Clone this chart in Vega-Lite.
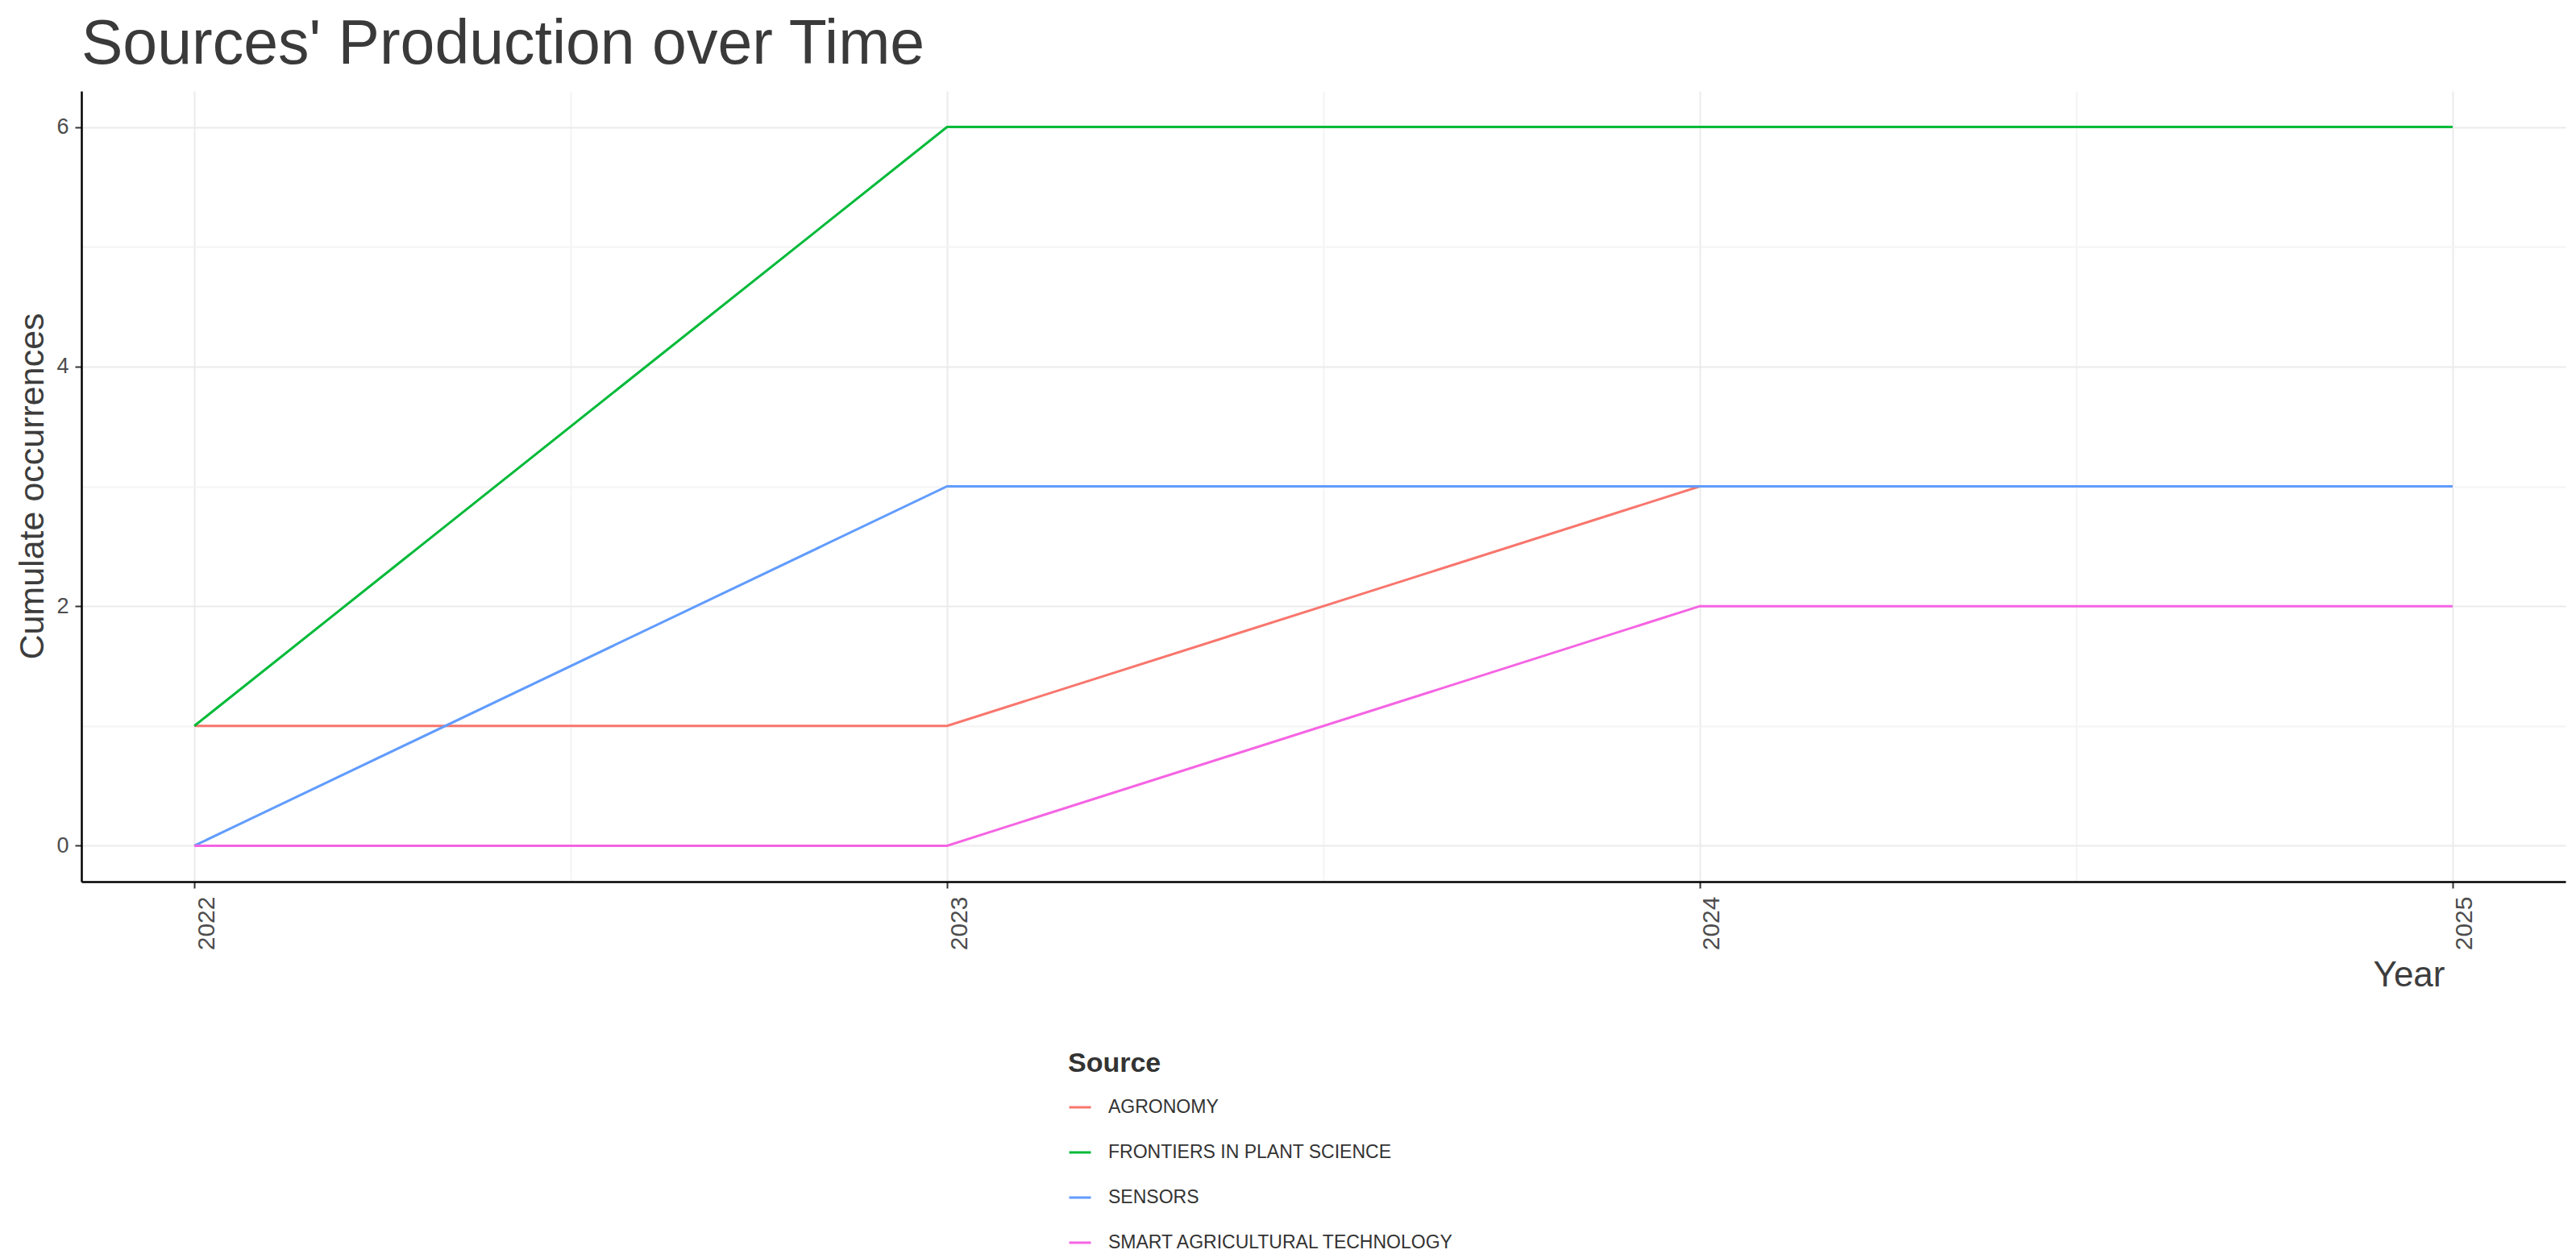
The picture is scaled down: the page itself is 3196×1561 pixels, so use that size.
{
  "$schema": "https://vega.github.io/schema/vega-lite/v6.json",
  "autosize": {"type": "none"},
  "padding": {"left": 101, "top": 113, "right": 13, "bottom": 467},
  "width": 3082,
  "height": 981,
  "background": "white",
  "view": {"stroke": null},
  "title": {
    "text": "Sources' Production over Time",
    "anchor": "start",
    "frame": "group",
    "font": "Liberation Sans",
    "fontSize": 77,
    "fontWeight": "normal",
    "color": "#3a3a3a",
    "baseline": "alphabetic",
    "offset": 32,
    "dy": 75
  },
  "data": {
    "values": [
      {"Source": "AGRONOMY", "Year": 2022, "Count": 1},
      {"Source": "AGRONOMY", "Year": 2023, "Count": 1},
      {"Source": "AGRONOMY", "Year": 2024, "Count": 3},
      {"Source": "AGRONOMY", "Year": 2025, "Count": 3},
      {"Source": "FRONTIERS IN PLANT SCIENCE", "Year": 2022, "Count": 1},
      {"Source": "FRONTIERS IN PLANT SCIENCE", "Year": 2023, "Count": 6},
      {"Source": "FRONTIERS IN PLANT SCIENCE", "Year": 2024, "Count": 6},
      {"Source": "FRONTIERS IN PLANT SCIENCE", "Year": 2025, "Count": 6},
      {"Source": "SENSORS", "Year": 2022, "Count": 0},
      {"Source": "SENSORS", "Year": 2023, "Count": 3},
      {"Source": "SENSORS", "Year": 2024, "Count": 3},
      {"Source": "SENSORS", "Year": 2025, "Count": 3},
      {"Source": "SMART AGRICULTURAL TECHNOLOGY", "Year": 2022, "Count": 0},
      {"Source": "SMART AGRICULTURAL TECHNOLOGY", "Year": 2023, "Count": 0},
      {"Source": "SMART AGRICULTURAL TECHNOLOGY", "Year": 2024, "Count": 2},
      {"Source": "SMART AGRICULTURAL TECHNOLOGY", "Year": 2025, "Count": 2}
    ]
  },
  "mark": {"type": "line", "strokeWidth": 3, "clip": false},
  "encoding": {
    "x": {
      "field": "Year",
      "type": "quantitative",
      "scale": {"domain": [2021.85, 2025.15], "nice": false, "zero": false},
      "axis": {
        "values": [2022, 2022.5, 2023, 2023.5, 2024, 2024.5, 2025],
        "labelExpr": "datum.value % 1 === 0 ? format(datum.value, 'd') : ''",
        "labelAngle": 270,
        "labelAlign": "right",
        "labelBaseline": "top",
        "labelFont": "Liberation Sans",
        "labelFontSize": 30,
        "labelColor": "#4d4d4d",
        "labelPadding": 10,
        "labelOverlap": false,
        "tickSize": 8,
        "tickWidth": 2,
        "tickColor": {"condition": {"test": "datum.value % 1 !== 0", "value": "transparent"}, "value": "#333333"},
        "grid": true,
        "gridColor": {"condition": {"test": "datum.value % 1 !== 0", "value": "#f4f4f4"}, "value": "#ebebeb"},
        "gridWidth": 2,
        "domainColor": "#000000",
        "domainWidth": 2.5,
        "title": "Year",
        "titleFont": "Liberation Sans",
        "titleFontSize": 44,
        "titleFontWeight": "normal",
        "titleColor": "#3d3d3d",
        "titleAlign": "right",
        "titleBaseline": "alphabetic",
        "titleX": 2932,
        "titleY": 129
      }
    },
    "y": {
      "field": "Count",
      "type": "quantitative",
      "scale": {"domain": [-0.3, 6.3], "nice": false, "zero": false},
      "axis": {
        "values": [0, 1, 2, 3, 4, 5, 6],
        "labelExpr": "datum.value % 2 === 0 ? format(datum.value, 'd') : ''",
        "labelFont": "Liberation Sans",
        "labelFontSize": 27,
        "labelColor": "#4d4d4d",
        "labelPadding": 8,
        "tickSize": 8,
        "tickWidth": 2,
        "tickColor": {"condition": {"test": "datum.value % 2 !== 0", "value": "transparent"}, "value": "#333333"},
        "grid": true,
        "gridColor": {"condition": {"test": "datum.value % 2 !== 0", "value": "#f4f4f4"}, "value": "#ebebeb"},
        "gridWidth": 2,
        "domainColor": "#000000",
        "domainWidth": 2.5,
        "title": "Cumulate occurrences",
        "titleFont": "Liberation Sans",
        "titleFontSize": 43,
        "titleFontWeight": "normal",
        "titleColor": "#3d3d3d",
        "titleAngle": 270,
        "titleAlign": "center",
        "titleBaseline": "alphabetic",
        "titleX": -48,
        "titleY": 490
      }
    },
    "color": {
      "field": "Source",
      "type": "nominal",
      "scale": {
        "domain": ["AGRONOMY", "FRONTIERS IN PLANT SCIENCE", "SENSORS", "SMART AGRICULTURAL TECHNOLOGY"],
        "range": ["#F8766D", "#00BA38", "#619CFF", "#F564E3"]
      },
      "legend": {
        "orient": "none",
        "legendX": 1224,
        "legendY": 1190,
        "direction": "vertical",
        "title": "Source",
        "titleFont": "Liberation Sans",
        "titleFontSize": 34,
        "titleFontWeight": "bold",
        "titleColor": "#333333",
        "titlePadding": 22,
        "labelFont": "Liberation Sans",
        "labelFontSize": 23,
        "labelColor": "#333333",
        "labelLimit": 0,
        "labelOffset": 20,
        "symbolType": "stroke",
        "symbolSize": 729,
        "symbolStrokeWidth": 3,
        "rowPadding": 29,
        "padding": 0
      }
    }
  }
}
